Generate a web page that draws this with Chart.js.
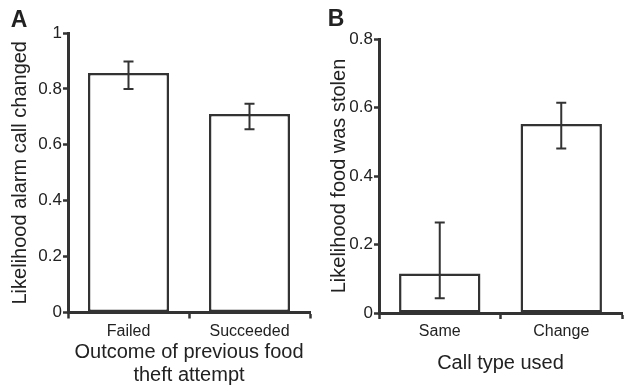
<!doctype html>
<html lang="en">
<head>
  <meta charset="utf-8">
  <title>Alarm calls and food theft</title>
  <style>
    * { margin: 0; padding: 0; }
    body { width: 640px; height: 392px; background: white; display: flex; }
    .chartBox { position: relative; width: 320px; height: 392px; }
  </style>
</head>
<body>
  <div class="chartBox"><canvas id="chartA"></canvas></div>
  <div class="chartBox"><canvas id="chartB"></canvas></div>

  <script src="https://cdn.jsdelivr.net/npm/chart.js"></script>
  <script>
    // panel A data
    const catsA = ['Failed', 'Succeeded'];
    const valsA = [0.857, 0.71];
    const lowA = [0.80, 0.656];
    const highA = [0.898, 0.747];
    const yTitleA = 'Likelihood alarm call changed';
    const xTitleA = ['Outcome of previous food', 'theft attempt'];

    // panel B data
    const catsB = ['Same', 'Change'];
    const valsB = [0.115, 0.552];
    const lowB = [0.043, 0.48];
    const highB = [0.264, 0.614];
    const yTitleB = 'Likelihood food was stolen';
    const xTitleB = 'Call type used';

    const ink = '#333333';
    const fontFam = '"Liberation Sans", Arial, sans-serif';

    // error bars + panel letter
    const errorBars = {
      id: 'errorBars',
      afterDatasetsDraw(chart, args, opts) {
        const ctx = chart.ctx;
        const meta = chart.getDatasetMeta(0);
        const y = chart.scales.y;
        ctx.save();
        ctx.strokeStyle = ink;
        ctx.lineWidth = 2;
        meta.data.forEach((bar, i) => {
          const top = y.getPixelForValue(opts.high[i]);
          const bot = y.getPixelForValue(opts.low[i]);
          ctx.beginPath();
          ctx.moveTo(bar.x, top); ctx.lineTo(bar.x, bot);
          ctx.moveTo(bar.x - 5, top); ctx.lineTo(bar.x + 5, top);
          ctx.moveTo(bar.x - 5, bot); ctx.lineTo(bar.x + 5, bot);
          ctx.stroke();
        });
        ctx.fillStyle = '#222';
        ctx.font = 'bold 23px ' + fontFam;
        ctx.textAlign = 'center';
        ctx.textBaseline = 'middle';
        ctx.fillText(opts.letter, opts.lx, opts.ly);
        ctx.restore();
      }
    };

    function makePanel(id, cats, vals, low, high, yMax, yTitle, xTitle, p) {
      return new Chart(document.getElementById(id), {
        type: 'bar',
        data: {
          labels: cats,
          datasets: [{
            data: vals,
            backgroundColor: 'white',
            borderColor: ink,
            borderWidth: 2.5,
            borderSkipped: false,
            categoryPercentage: 1,
            barPercentage: 0.67
          }]
        },
        plugins: [errorBars],
        options: {
          responsive: true,
          maintainAspectRatio: false,
          animation: false,
          layout: { padding: { top: p.top, right: p.right, left: 0, bottom: 0 } },
          plugins: {
            legend: { display: false },
            tooltip: { enabled: false },
            errorBars: { low: low, high: high, letter: p.letter, lx: p.lx, ly: p.ly }
          },
          scales: {
            x: {
              afterFit: s => { s.height = p.xH; },
              grid: { offset: true, drawOnChartArea: false, tickLength: 6, tickColor: ink, tickWidth: 2.5 },
              border: { display: true, color: ink, width: 3 },
              ticks: { color: '#222', padding: 3, font: { family: fontFam, size: 16 } },
              title: {
                display: true, text: xTitle, color: '#222',
                padding: { top: 0, bottom: p.xPad },
                font: { family: fontFam, size: 20, lineHeight: 1.15 }
              }
            },
            y: {
              min: 0, max: yMax,
              afterFit: s => { s.width = p.yW; },
              grid: { drawOnChartArea: false, tickLength: 5, tickColor: ink, tickWidth: 2.5 },
              border: { display: true, color: ink, width: 3 },
              ticks: {
                stepSize: 0.2, color: '#222', padding: 1,
                font: { family: fontFam, size: 17 },
                callback: v => String(Number(v.toFixed(2)))
              },
              title: {
                display: true, text: yTitle, color: '#222',
                padding: { top: p.yPad, bottom: 0 },
                font: { family: fontFam, size: 20, lineHeight: 1.15 }
              }
            }
          }
        }
      });
    }

    makePanel('chartA', catsA, valsA, lowA, highA, 1, yTitleA, xTitleA,
      { top: 33, right: 10, xH: 79.5, yW: 68, xPad: 5.5, yPad: 8.5, letter: 'A', lx: 19, ly: 21 });
    makePanel('chartB', catsB, valsB, lowB, highB, 0.8, yTitleB, xTitleB,
      { top: 39, right: 18, xH: 79, yW: 59, xPad: 17.5, yPad: 7.5, letter: 'B', lx: 16, ly: 20 });
  </script>
</body>
</html>
